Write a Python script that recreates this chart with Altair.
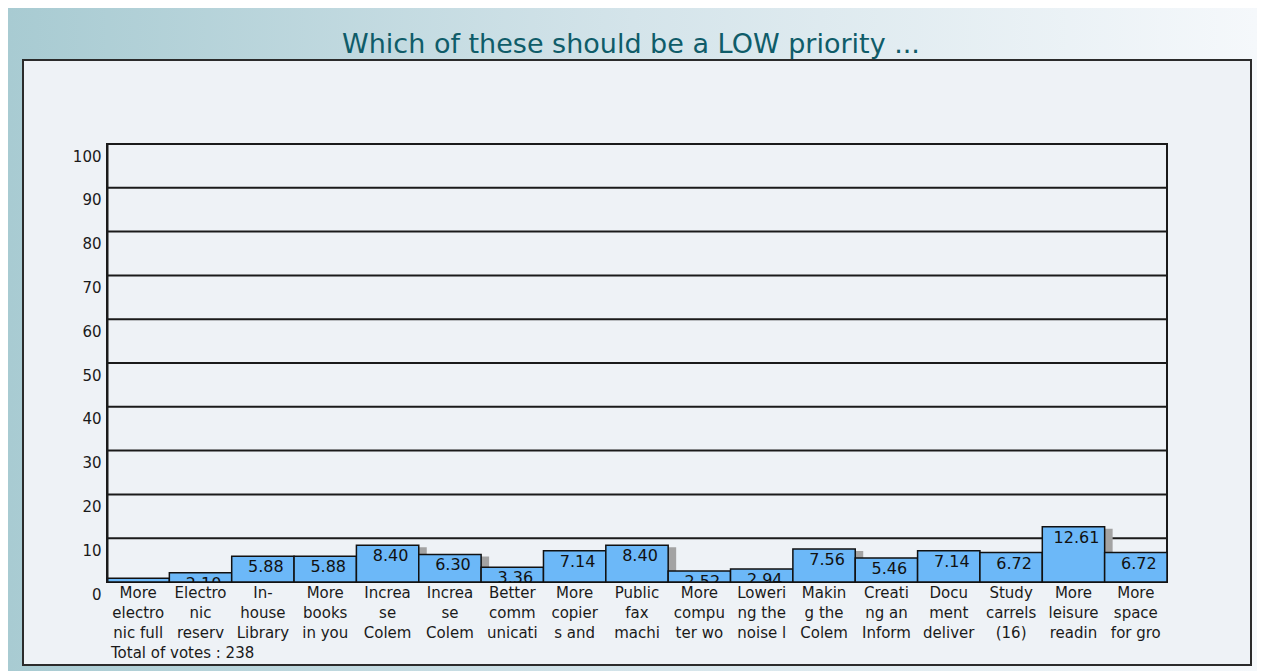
import json
import altair as alt
import pandas as pd

# ---------------- data ----------------
label_lines = [
    ["More", "electro", "nic full"],
    ["Electro", "nic", "reserv"],
    ["In-", "house", "Library"],
    ["More", "books", "in you"],
    ["Increa", "se", "Colem"],
    ["Increa", "se", "Colem"],
    ["Better", "comm", "unicati"],
    ["More", "copier", "s and"],
    ["Public", "fax", "machi"],
    ["More", "compu", "ter wo"],
    ["Loweri", "ng the", "noise l"],
    ["Makin", "g the", "Colem"],
    ["Creati", "ng an", "Inform"],
    ["Docu", "ment", "deliver"],
    ["Study", "carrels", "(16)"],
    ["More", "leisure", "readin"],
    ["More", "space", "for gro"],
]
percent = [0.84, 2.10, 5.88, 5.88, 8.40, 6.30, 3.36, 7.14, 8.40, 2.52,
           2.94, 7.56, 5.46, 7.14, 6.72, 12.61, 6.72]
y_ticks = list(range(0, 101, 10))
title_text = "Which of these should be a LOW priority ..."
total_votes = 238

# ---------------- styling ----------------
FONT = "DejaVu Sans"
W, H = 1060, 438
PAD = {"left": 99, "top": 136, "right": 90, "bottom": 89}

df = pd.DataFrame({
    "idx": list(range(len(percent))),
    "pct": percent,
    "txt": [f"{v:.2f}" for v in percent],
})
ticks_df = pd.DataFrame({"pct": y_ticks})
one = pd.DataFrame({"a": [0]})

label_expr = json.dumps(label_lines) + "[datum.value]"

x_enc = alt.X(
    "idx:O",
    scale=alt.Scale(paddingInner=0, paddingOuter=0),
    axis=alt.Axis(
        title=None, labelExpr=label_expr, labelAngle=0, ticks=False,
        domain=False, labelFont=FONT, labelFontSize=15, labelColor="#1a1a1a",
        labelLineHeight=20, labelPadding=3, labelBaseline="top",
        labelOverlap=False, labelBound=False, labelFlush=False, zindex=2,
    ),
)
y_scale = alt.Scale(domain=[0, 100], nice=False, zero=True)
y_axis = alt.Axis(
    title=None, values=y_ticks, grid=False, ticks=False,
    domainColor="#1a1a1a", domainWidth=2, labelFont=FONT,
    labelFontSize=15, labelColor="#1a1a1a", labelBaseline="top",
    labelPadding=6, labelOffset=5, zindex=2, labelOverlap=False,
)
y_enc = alt.Y("pct:Q", scale=y_scale, axis=y_axis)

# decorative background (gradient band) and framed panel
bg = alt.Chart(one).mark_rect(
    fill=alt.Gradient(
        gradient="linear", x1=0, x2=1, y1=0, y2=0,
        stops=[alt.GradientStop(color="#a8cbd2", offset=0),
               alt.GradientStop(color="#d4e4ea", offset=0.5),
               alt.GradientStop(color="#f5f8fb", offset=1)],
    )
).encode(x=alt.value(-PAD["left"]), x2=alt.value(W + PAD["right"]),
         y=alt.value(-PAD["top"]), y2=alt.value(H + PAD["bottom"]))

panel = alt.Chart(one).mark_rect(
    fill="#eef2f6", stroke="#2b2b2b", strokeWidth=2
).encode(x=alt.value(-84), x2=alt.value(1144),
         y=alt.value(-84), y2=alt.value(521))

grid = alt.Chart(ticks_df).mark_rule(color="#1a1a1a", strokeWidth=2).encode(
    y=y_enc
)

frame = alt.Chart(one).mark_rect(
    fill="transparent", stroke="#1a1a1a", strokeWidth=2
).encode(x=alt.value(0), x2=alt.value("width"),
         y=alt.value(0), y2=alt.value("height"))

shadow = alt.Chart(df).mark_bar(
    color="#a3a3a3", xOffset=8, yOffset=2, clip=True
).encode(x=x_enc, y=y_enc)

bars = alt.Chart(df).mark_bar(
    color="#6cb8f8", stroke="#111111", strokeWidth=1.5
).encode(x=x_enc, y=y_enc)

values = alt.Chart(df).mark_text(
    baseline="top", dy=3, dx=3, clip=True, font=FONT, fontSize=16,
    color="#111111"
).encode(x=x_enc, y=y_enc, text="txt:N")

total = alt.Chart(one).mark_text(
    align="left", baseline="middle", font=FONT, fontSize=15, color="#1a1a1a",
    text=f"Total of votes : {total_votes}"
).encode(x=alt.value(4), y=alt.value(509))

title = alt.Chart(one).mark_text(
    align="center", baseline="alphabetic", font=FONT, fontSize=27,
    color="#0f5c69", text=title_text
).encode(x=alt.value(W / 2 - 6), y=alt.value(-91))

chart = alt.layer(bg, panel, grid, frame, shadow, bars, values, total, title).properties(
    width=W, height=H,
    padding=PAD,
    autosize=alt.AutoSizeParams(type="none"),
).configure_view(stroke=None).configure(background="white")

chart.save("out.html", embed_options={"renderer": "svg", "actions": False})
